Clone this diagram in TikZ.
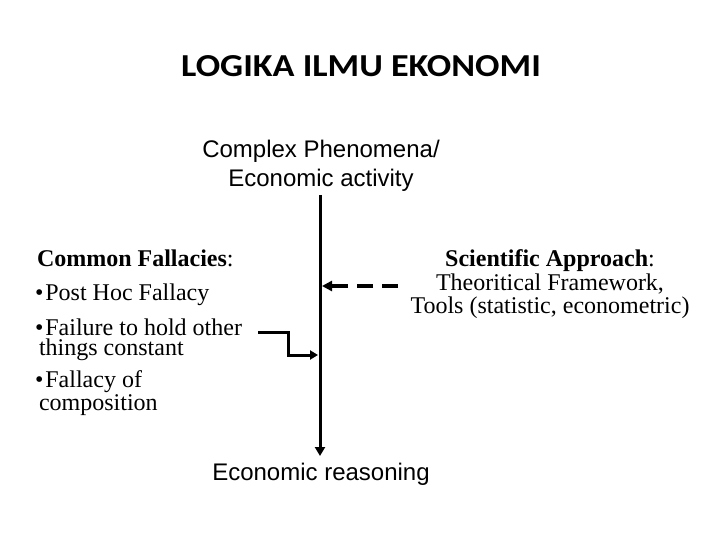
\documentclass[tikz,border=0pt]{standalone}
\usepackage{fontspec}
\setmainfont{Liberation Serif}
\newfontfamily\arialf{Liberation Sans}
\newfontfamily\calibrif[FakeStretch=1.13]{Carlito}
\usetikzlibrary{arrows.meta}
\tikzset{
  txt/.style={inner sep=0pt, outer sep=0pt, anchor=base, font=\fontsize{24}{24}\selectfont},
  sanstxt/.style={txt, font=\arialf\fontsize{24}{24}\selectfont},
  lefttxt/.style={txt, anchor=base west, align=left, font=\fontsize{24}{20}\selectfont},
  titletxt/.style={inner sep=0pt, anchor=base, font=\calibrif\bfseries\fontsize{32}{32}\selectfont},
  mainarrow/.style={line width=3pt, -{Triangle[length=9pt,width=10pt]}},
  elbowarrow/.style={line width=3pt, -{Triangle[length=8pt,width=9pt]}},
  dasharrow/.style={line width=4pt, dash pattern=on 16pt off 9pt, -{Triangle[length=10pt,width=10pt]}}
}
\begin{document}
\begin{tikzpicture}[x=1pt,y=-1pt]
\useasboundingbox (0,0) rectangle (720,540);
\node[titletxt] (title) at (361,77) {LOGIKA ILMU EKONOMI};
\node[sanstxt] (top1) at (321,158) {Complex Phenomena/};
\node[sanstxt] (top2) at (321,187) {Economic activity};
\node[sanstxt] (bottom) at (321,480) {Economic reasoning};
\node[lefttxt] (l1) at (37,266) {\textbf{Common Fallacies}:};
\node[lefttxt] (l2) at (35,300) {•\hspace{2pt}Post Hoc Fallacy};
\node[lefttxt] (l3) at (35,355) {•\hspace{2pt}Failure to hold other\\\hspace{4pt}things constant};
\node[lefttxt] (l5) at (35,410) {•\hspace{2pt}Fallacy of\\\hspace{4pt}composition};
\node[txt] (r1) at (550,266) {\textbf{Scientific Approach}:};
\node[txt] (r2) at (550,290) {Theoritical Framework,};
\node[txt] (r3) at (550,313) {Tools (statistic, econometric)};
\coordinate (vtop) at (320,195);
\coordinate (vbot) at (320,456);
\coordinate (e0) at (258,332);
\coordinate (e1) at (318,355);
\coordinate (d0) at (398,286);
\coordinate (d1) at (322,286);
\draw[mainarrow] (vtop) -- (vbot);
\draw[elbowarrow] (e0) -- ++(30.5,0) |- (e1);
\draw[dasharrow] (d0) -- (d1);
\end{tikzpicture}
\end{document}
